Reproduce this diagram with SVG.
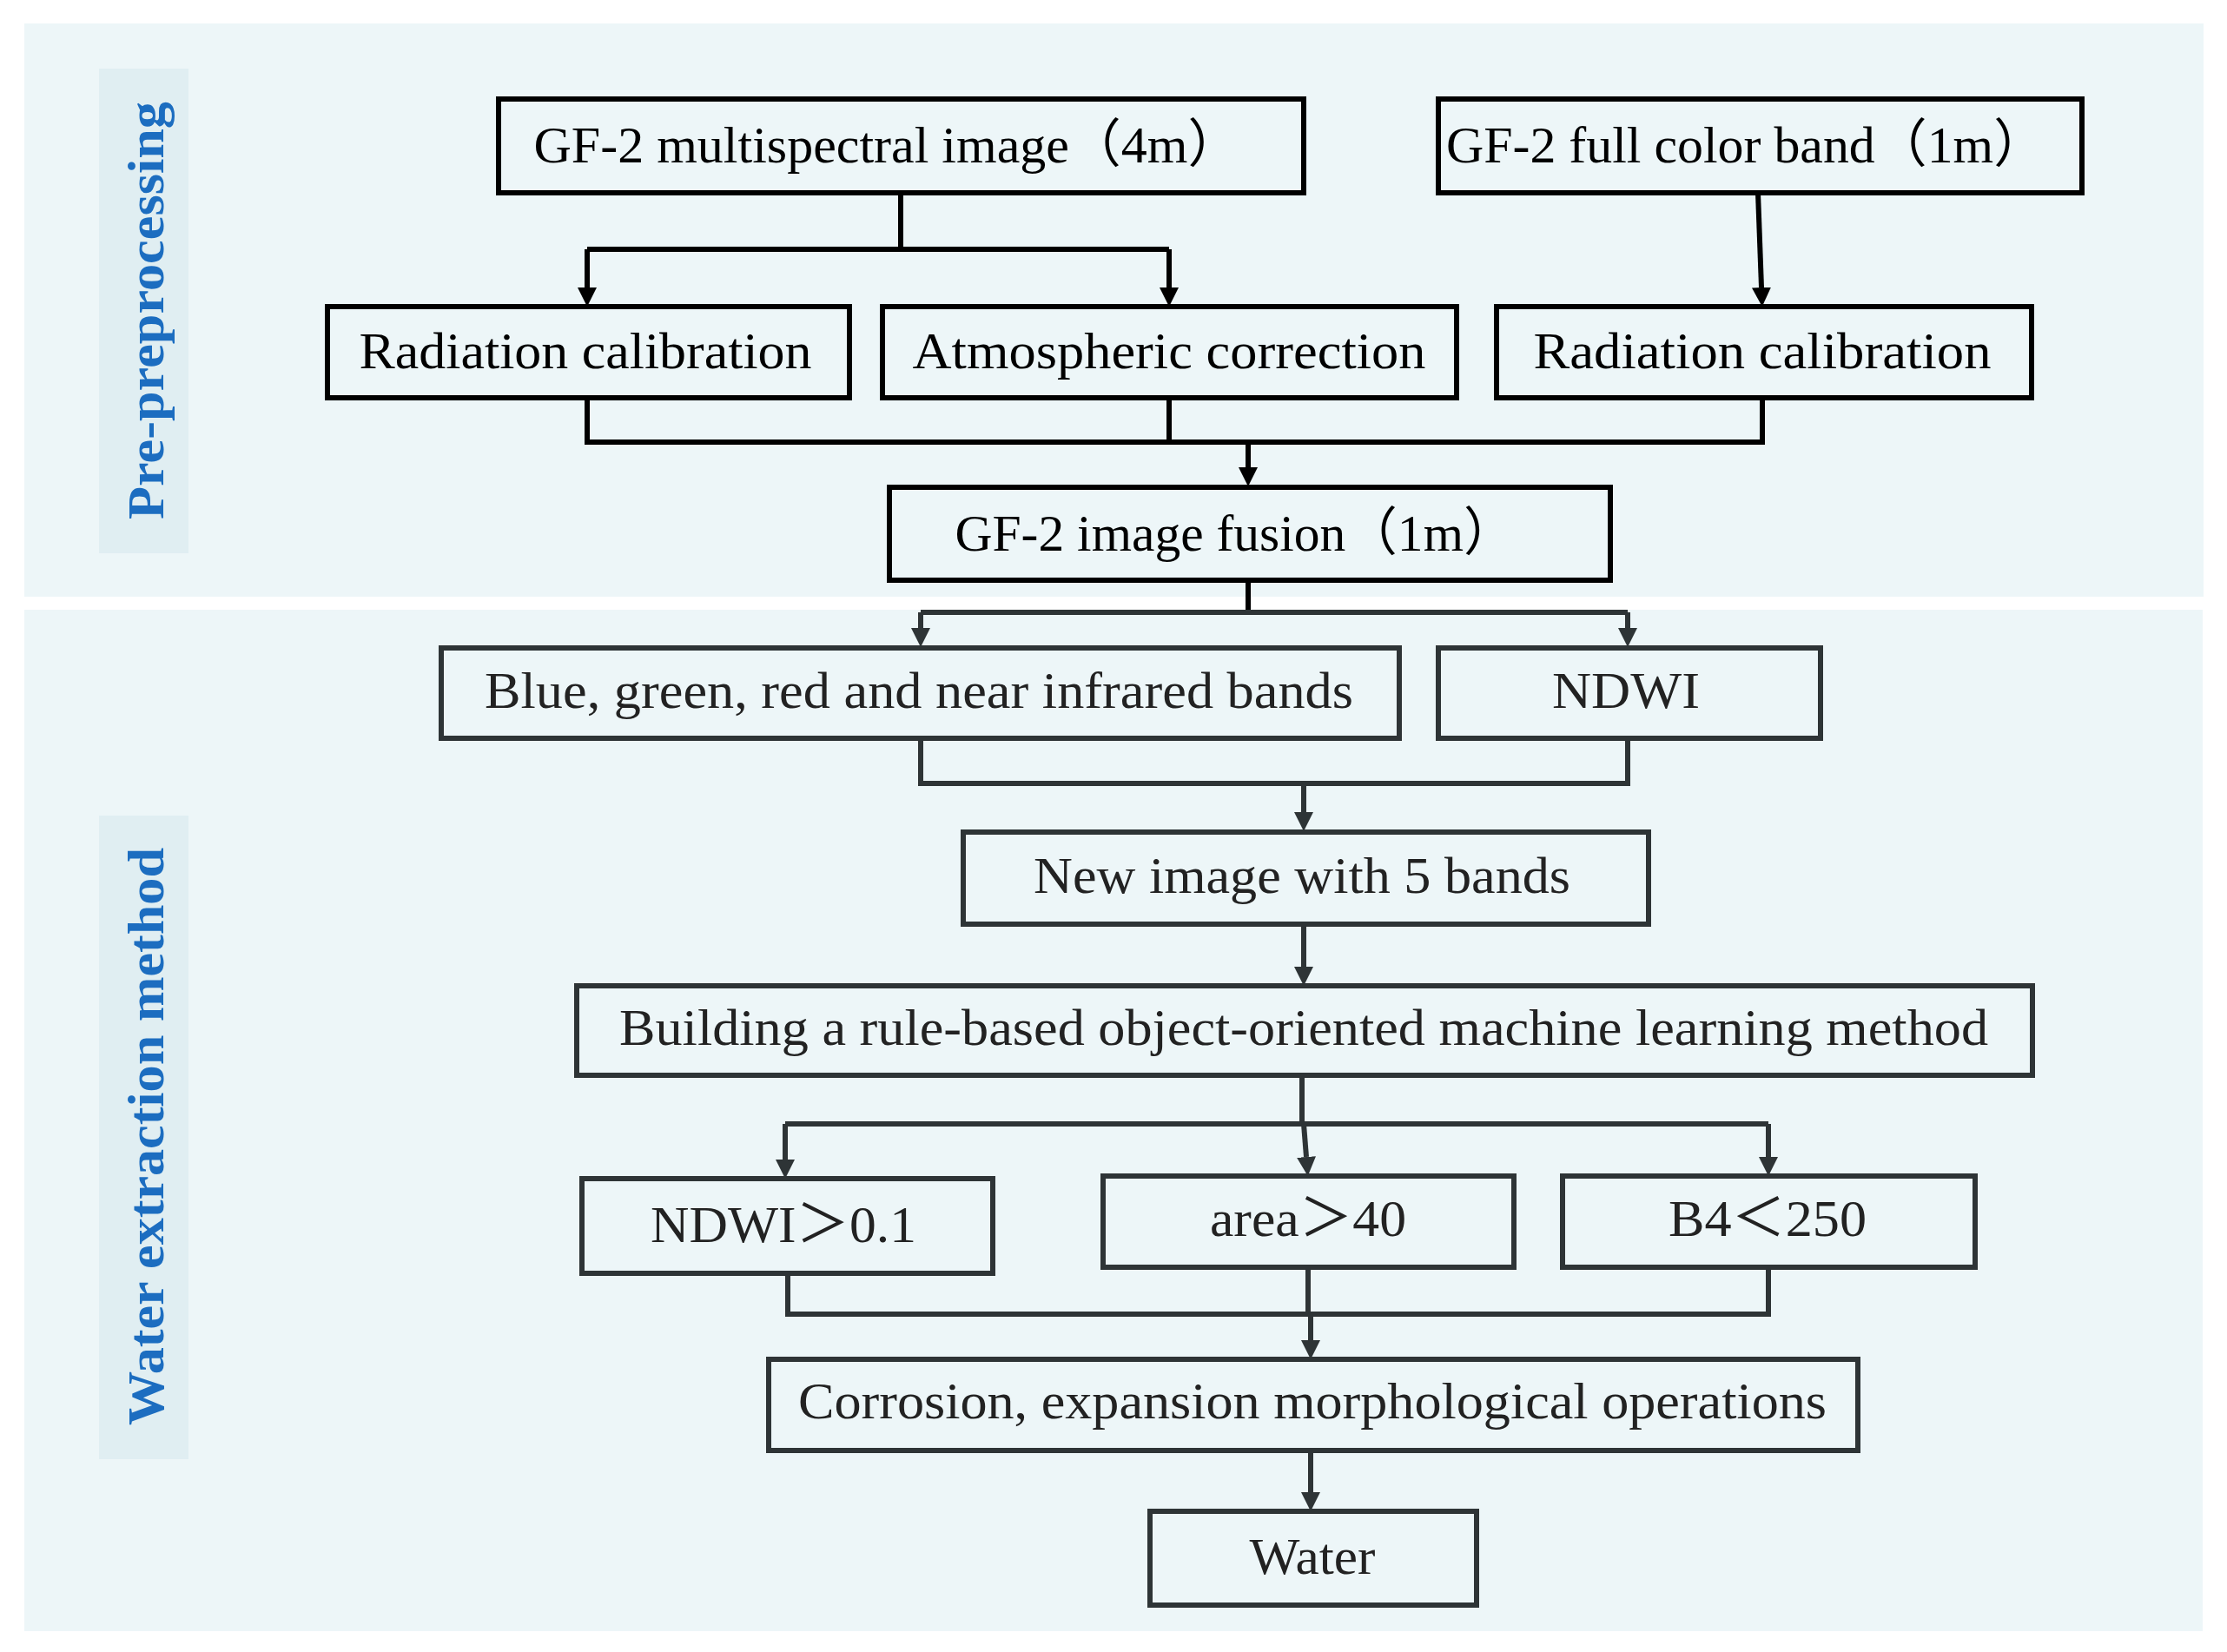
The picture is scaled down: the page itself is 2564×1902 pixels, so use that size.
<svg xmlns="http://www.w3.org/2000/svg" width="2564" height="1902" viewBox="0 0 2564 1902">
<defs>
<style>
.band{fill:#EDF6F8}
.strip{fill:#E0EEF2}
.side{font-family:"Liberation Serif",serif;font-weight:bold;font-size:60px;fill:#1C6DC0}
.bt{fill:none;stroke:#000;stroke-width:6}
.bb{fill:none;stroke:#2E3436;stroke-width:6}
.tt{font-family:"Liberation Serif","Noto Sans CJK SC",serif;font-size:60px;fill:#000;text-anchor:middle}
.tb{font-family:"Liberation Serif","Noto Sans CJK SC",serif;font-size:60px;fill:#222;text-anchor:middle}
.ct{fill:none;stroke:#000;stroke-width:6}
.cb{fill:none;stroke:#2E3436;stroke-width:6}
</style>
<marker id="at" markerUnits="userSpaceOnUse" markerWidth="24" markerHeight="26" viewBox="0 -13 24 26" refX="0" refY="0" orient="auto"><path d="M0,-11 L22,0 L0,11 z" fill="#000"/></marker>
<marker id="ab" markerUnits="userSpaceOnUse" markerWidth="24" markerHeight="26" viewBox="0 -13 24 26" refX="0" refY="0" orient="auto"><path d="M0,-11 L22,0 L0,11 z" fill="#2E3436"/></marker>
</defs>
<rect width="2564" height="1902" fill="#fff"/>
<g id="bands">
<rect class="band" x="28" y="27" width="2509" height="660"/>
<rect class="band" x="28" y="702" width="2508" height="1176"/>
<rect class="strip" x="114" y="79" width="103" height="558"/>
<rect class="strip" x="114" y="939" width="103" height="741"/>
<text class="side" transform="translate(188,598) rotate(-90)" textLength="481" lengthAdjust="spacingAndGlyphs">Pre-preprocessing</text>
<text class="side" transform="translate(188,1641) rotate(-90)" textLength="665" lengthAdjust="spacingAndGlyphs">Water extraction method</text>
</g>
<g id="connectors">
<path class="ct" d="M1037,222 V287 M676,287 H1346"/>
<path class="ct" d="M676,287 V331" marker-end="url(#at)"/>
<path class="ct" d="M1346,287 V331" marker-end="url(#at)"/>
<path class="ct" d="M2024,222 L2028,331" marker-end="url(#at)"/>
<path class="ct" d="M676,458 V509 H2029 V458 M1346,458 V509"/>
<path class="ct" d="M1437,509 V538" stroke-width="8" marker-end="url(#at)"/>
<path class="ct" d="M1437,668 V705"/>
<path class="cb" d="M1060,705 H1874"/>
<path class="cb" d="M1060,705 V723" marker-end="url(#ab)"/>
<path class="cb" d="M1874,705 V723" marker-end="url(#ab)"/>
<path class="cb" d="M1060,850 V902 H1874 V850"/>
<path class="cb" d="M1501,902 V935" marker-end="url(#ab)"/>
<path class="cb" d="M1501,1064 V1113" marker-end="url(#ab)"/>
<path class="cb" d="M1499,1238 V1294 M904,1294 H2036"/>
<path class="cb" d="M904,1294 V1335" marker-end="url(#ab)"/>
<path class="cb" d="M1501,1294 L1504,1332" marker-end="url(#ab)"/>
<path class="cb" d="M2036,1294 V1332" marker-end="url(#ab)"/>
<path class="cb" d="M907,1466 V1513 H2036 V1459 M1506,1459 V1513"/>
<path class="cb" d="M1509,1513 V1543" stroke-width="8" marker-end="url(#ab)"/>
<path class="cb" d="M1509,1670 V1718" marker-end="url(#ab)"/>
</g>
<g id="n-ms">
<rect class="bt" x="574" y="114" width="927" height="108"/>
<text class="tt" x="1021" y="187" textLength="813" lengthAdjust="spacingAndGlyphs">GF-2 multispectral image（4m）</text>
</g>
<g id="n-pan">
<rect class="bt" x="1656" y="114" width="741" height="108"/>
<text class="tt" x="2010" y="187" textLength="690" lengthAdjust="spacingAndGlyphs">GF-2 full color band（1m）</text>
</g>
<g id="n-rad1">
<rect class="bt" x="377" y="353" width="601" height="105"/>
<text class="tt" x="674" y="424" textLength="521" lengthAdjust="spacingAndGlyphs">Radiation calibration</text>
</g>
<g id="n-atm">
<rect class="bt" x="1016" y="353" width="661" height="105"/>
<text class="tt" x="1346" y="424" textLength="591" lengthAdjust="spacingAndGlyphs">Atmospheric correction</text>
</g>
<g id="n-rad2">
<rect class="bt" x="1723" y="353" width="616" height="105"/>
<text class="tt" x="2029" y="424" textLength="527" lengthAdjust="spacingAndGlyphs">Radiation calibration</text>
</g>
<g id="n-fusion">
<rect class="bt" x="1024" y="561" width="830" height="107"/>
<text class="tt" x="1422" y="634" textLength="645" lengthAdjust="spacingAndGlyphs">GF-2 image fusion（1m）</text>
</g>
<g id="n-bands">
<rect class="bb" x="508" y="746" width="1103" height="104"/>
<text class="tb" x="1058" y="815" textLength="1000" lengthAdjust="spacingAndGlyphs">Blue, green, red and near infrared bands</text>
</g>
<g id="n-ndwi">
<rect class="bb" x="1656" y="746" width="440" height="104"/>
<text class="tb" x="1872" y="815" textLength="170" lengthAdjust="spacingAndGlyphs">NDWI</text>
</g>
<g id="n-new">
<rect class="bb" x="1109" y="958" width="789" height="106"/>
<text class="tb" x="1499" y="1028" textLength="618" lengthAdjust="spacingAndGlyphs">New image with 5 bands</text>
</g>
<g id="n-build">
<rect class="bb" x="664" y="1135" width="1676" height="103"/>
<text class="tb" x="1501" y="1203" textLength="1576" lengthAdjust="spacingAndGlyphs">Building a rule-based object-oriented machine learning method</text>
</g>
<g id="n-r1">
<rect class="bb" x="670" y="1357" width="473" height="109"/>
<text class="tb" x="902" y="1430" textLength="306" lengthAdjust="spacingAndGlyphs">NDWI＞0.1</text>
</g>
<g id="n-r2">
<rect class="bb" x="1270" y="1354" width="473" height="105"/>
<text class="tb" x="1506" y="1423" textLength="226" lengthAdjust="spacingAndGlyphs">area＞40</text>
</g>
<g id="n-r3">
<rect class="bb" x="1799" y="1354" width="475" height="105"/>
<text class="tb" x="2035" y="1423" textLength="228" lengthAdjust="spacingAndGlyphs">B4＜250</text>
</g>
<g id="n-morph">
<rect class="bb" x="885" y="1565" width="1254" height="105"/>
<text class="tb" x="1511" y="1633" textLength="1184" lengthAdjust="spacingAndGlyphs">Corrosion, expansion morphological operations</text>
</g>
<g id="n-water">
<rect class="bb" x="1324" y="1740" width="376" height="108"/>
<text class="tb" x="1511" y="1812" textLength="145" lengthAdjust="spacingAndGlyphs">Water</text>
</g>
</svg>
